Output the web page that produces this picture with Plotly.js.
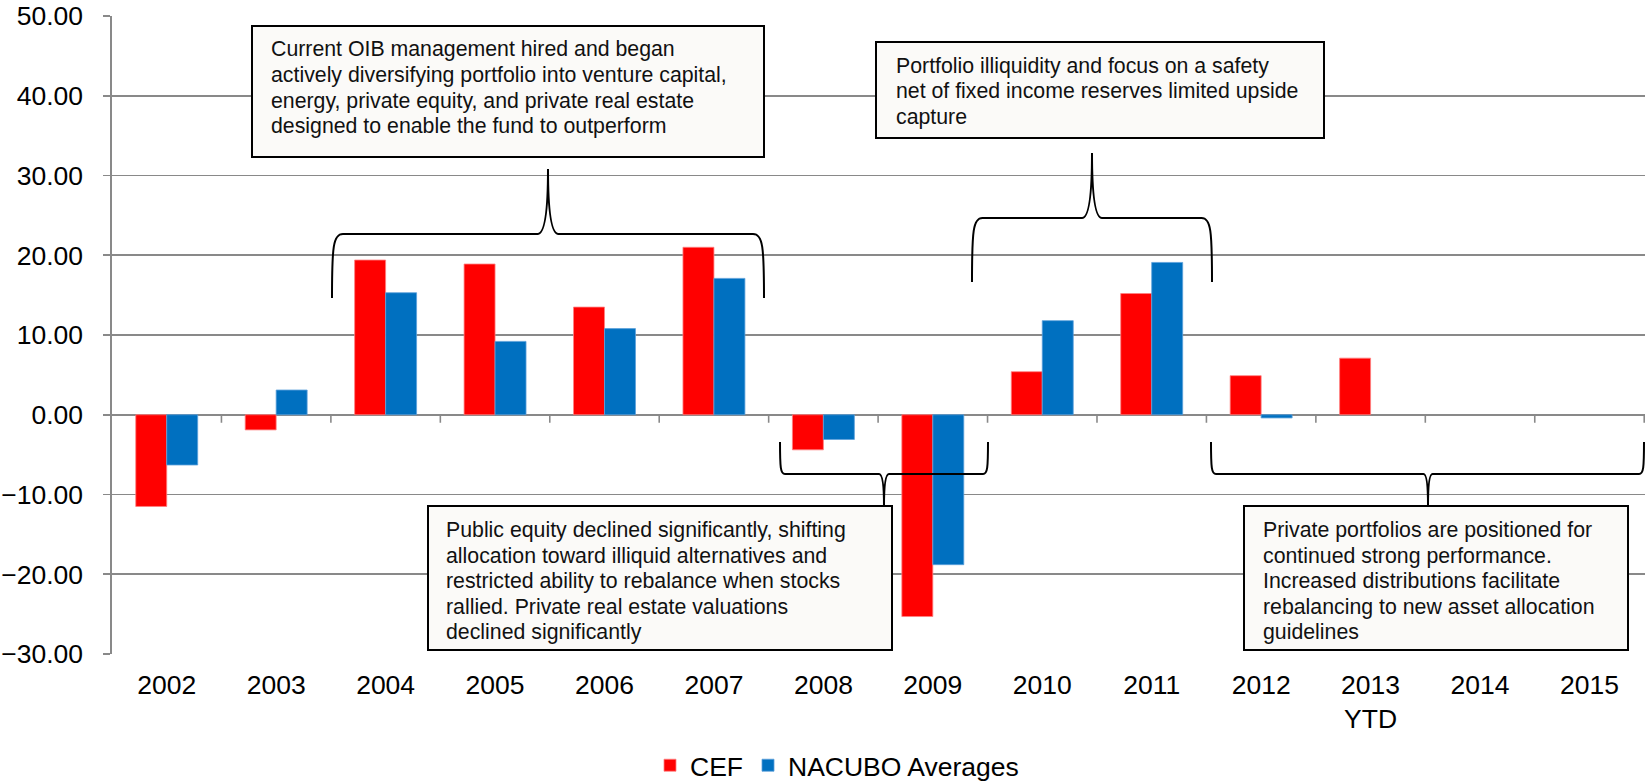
<!DOCTYPE html>
<html><head><meta charset="utf-8">
<script src="https://cdn.plot.ly/plotly-3.0.1.min.js"></script>
<style>html,body{margin:0;padding:0;background:#fff}#chart{width:1646px;height:784px}</style>
</head><body><div id="chart"></div>
<script>
// ---- data ----
const categories = ['2002','2003','2004','2005','2006','2007','2008','2009','2010','2011','2012','2013<br>YTD','2014','2015'];
const cefReturns = [-11.5, -1.9, 19.4, 18.9, 13.5, 21.0, -4.4, -25.3, 5.4, 15.2, 4.9, 7.1, null, null];
const nacuboReturns = [-6.3, 3.1, 15.3, 9.2, 10.8, 17.1, -3.1, -18.8, 11.8, 19.1, -0.4, null, null, null];
const seriesNames = ['CEF', 'NACUBO Averages'];
const yTickValues = [-30, -20, -10, 0, 10, 20, 30, 40, 50];

const noteOIB = ['Current OIB management hired and began',
  'actively diversifying portfolio into venture capital,',
  'energy, private equity, and private real estate',
  'designed to enable the fund to outperform'];
const noteIlliquidity = ['Portfolio illiquidity and focus on a safety',
  'net of fixed income reserves limited upside',
  'capture'];
const notePublicEquity = ['Public equity declined significantly, shifting',
  'allocation toward illiquid alternatives and',
  'restricted ability to rebalance when stocks',
  'rallied. Private real estate valuations',
  'declined significantly'];
const notePrivate = ['Private portfolios are positioned for',
  'continued strong performance.',
  'Increased distributions facilitate',
  'rebalancing to new asset allocation',
  'guidelines'];

// ---- geometry helpers (page pixels -> paper fractions) ----
const W = 1646, H = 784, M = {l: 112, r: 1, t: 16, b: 130, autoexpand: false};
const PW = W - M.l - M.r, PH = H - M.t - M.b;
const px = x => (x - M.l) / PW;
const py = y => (H - M.b - y) / PH;
const pt = (x, y) => px(x).toFixed(5) + ',' + py(y).toFixed(5);

const FONT = 'Arial, "Liberation Sans", sans-serif';
const GRID = '#898989';

function bracePath(b) {
  const {x0, x1, xt, yEnd, yBase, yTip, r, rt} = b;
  const d = yBase - yEnd, h = yTip - yBase;
  return 'M' + pt(x0, yEnd) +
    ' C' + pt(x0, yEnd + 0.8 * d) + ' ' + pt(x0 + 0.1 * r, yBase) + ' ' + pt(x0 + r, yBase) +
    ' L' + pt(xt - rt, yBase) +
    ' C' + pt(xt - 0.3 * rt, yBase) + ' ' + pt(xt, yBase + 0.35 * h) + ' ' + pt(xt, yTip) +
    ' C' + pt(xt, yBase + 0.35 * h) + ' ' + pt(xt + 0.3 * rt, yBase) + ' ' + pt(xt + rt, yBase) +
    ' L' + pt(x1 - r, yBase) +
    ' C' + pt(x1 - 0.1 * r, yBase) + ' ' + pt(x1, yEnd + 0.8 * d) + ' ' + pt(x1, yEnd);
}

const braces = [
  {x0: 332, x1: 764, xt: 548, yEnd: 298, yBase: 234, yTip: 169, r: 11, rt: 10.5},
  {x0: 972, x1: 1212, xt: 1092, yEnd: 282, yBase: 218, yTip: 153, r: 10.5, rt: 10},
  {x0: 780, x1: 988, xt: 884, yEnd: 442, yBase: 474, yTip: 506, r: 5, rt: 5},
  {x0: 1211, x1: 1644, xt: 1428, yEnd: 442, yBase: 474, yTip: 506, r: 5, rt: 4.5}
];
const boxes = [
  {x0: 252, x1: 764, y0: 26, y1: 157, lines: noteOIB, tx: 270, ty: 49.3, pitch: 25.6},
  {x0: 876, x1: 1324, y0: 42, y1: 138, lines: noteIlliquidity, tx: 894.5, ty: 66, pitch: 25.3},
  {x0: 428, x1: 892, y0: 506, y1: 650, lines: notePublicEquity, tx: 445, ty: 530, pitch: 25.6},
  {x0: 1244, x1: 1628, y0: 506, y1: 650, lines: notePrivate, tx: 1262, ty: 530, pitch: 25.6}
];

const shapes = [];
// category-axis tick marks hanging from the zero line at category boundaries
categories.forEach((c, i) => {
  shapes.push({type: 'line', xref: 'x', yref: 'y', x0: i + 0.5, x1: i + 0.5,
    ysizemode: 'pixel', yanchor: 0, y0: 0, y1: -8,
    line: {color: GRID, width: 1.6}, layer: 'above'});
});
braces.forEach(b => shapes.push({type: 'path', xref: 'paper', yref: 'paper', path: bracePath(b),
  line: {color: '#000', width: 2}, layer: 'above'}));
boxes.forEach(b => shapes.push({type: 'rect', xref: 'paper', yref: 'paper',
  x0: px(b.x0), x1: px(b.x1), y0: py(b.y1), y1: py(b.y0),
  fillcolor: '#FBFAF8', line: {color: '#000', width: 2}, layer: 'above'}));

const annotations = [];
boxes.forEach(b => b.lines.forEach((t, k) => annotations.push({
  xref: 'paper', yref: 'paper', x: px(b.tx), y: py(b.ty + k * b.pitch),
  xanchor: 'left', yanchor: 'middle', text: t, showarrow: false, align: 'left',
  borderpad: 0, font: {family: FONT, size: 21.3, color: '#111'}
})));

const traces = [
  {type: 'bar', name: seriesNames[0], x: categories, y: cefReturns,
   marker: {color: '#FF0000', line: {color: '#FF8080', width: 0.8}}},
  {type: 'bar', name: seriesNames[1], x: categories, y: nacuboReturns,
   marker: {color: '#0070C0', line: {color: '#5AA0DA', width: 0.8}}}
];

const layout = {
  width: W, height: H,
  margin: M,
  paper_bgcolor: '#fff', plot_bgcolor: '#fff',
  font: {family: FONT, color: '#000', size: 26.5},
  barmode: 'group', bargap: 0.434, bargroupgap: 0,
  showlegend: true,
  legend: {orientation: 'h', xref: 'container', yref: 'paper',
    x: 650 / W, xanchor: 'left', y: py(765.5), yanchor: 'middle',
    itemwidth: 30, tracegroupgap: 0,
    font: {family: FONT, size: 26.5, color: '#000'}, bgcolor: 'rgba(0,0,0,0)'},
  xaxis: {type: 'category', showgrid: false, zeroline: false, showline: false,
    ticks: '', tickfont: {family: FONT, size: 26.5, color: '#000'},
    ticklabelstandoff: 12, fixedrange: true},
  yaxis: {range: [-30, 50], tickvals: yTickValues, tickformat: '.2f',
    showgrid: true, gridcolor: GRID, gridwidth: 1.6,
    zeroline: true, zerolinecolor: GRID, zerolinewidth: 1.6,
    showline: true, linecolor: GRID, linewidth: 1.6,
    ticks: 'outside', ticklen: 7, tickcolor: GRID, tickwidth: 1.6,
    tickfont: {family: FONT, size: 26.5, color: '#000'}, ticklabelstandoff: 15, fixedrange: true},
  shapes: shapes,
  annotations: annotations
};

Plotly.newPlot('chart', traces, layout, {displayModeBar: false, staticPlot: true});
</script></body></html>
